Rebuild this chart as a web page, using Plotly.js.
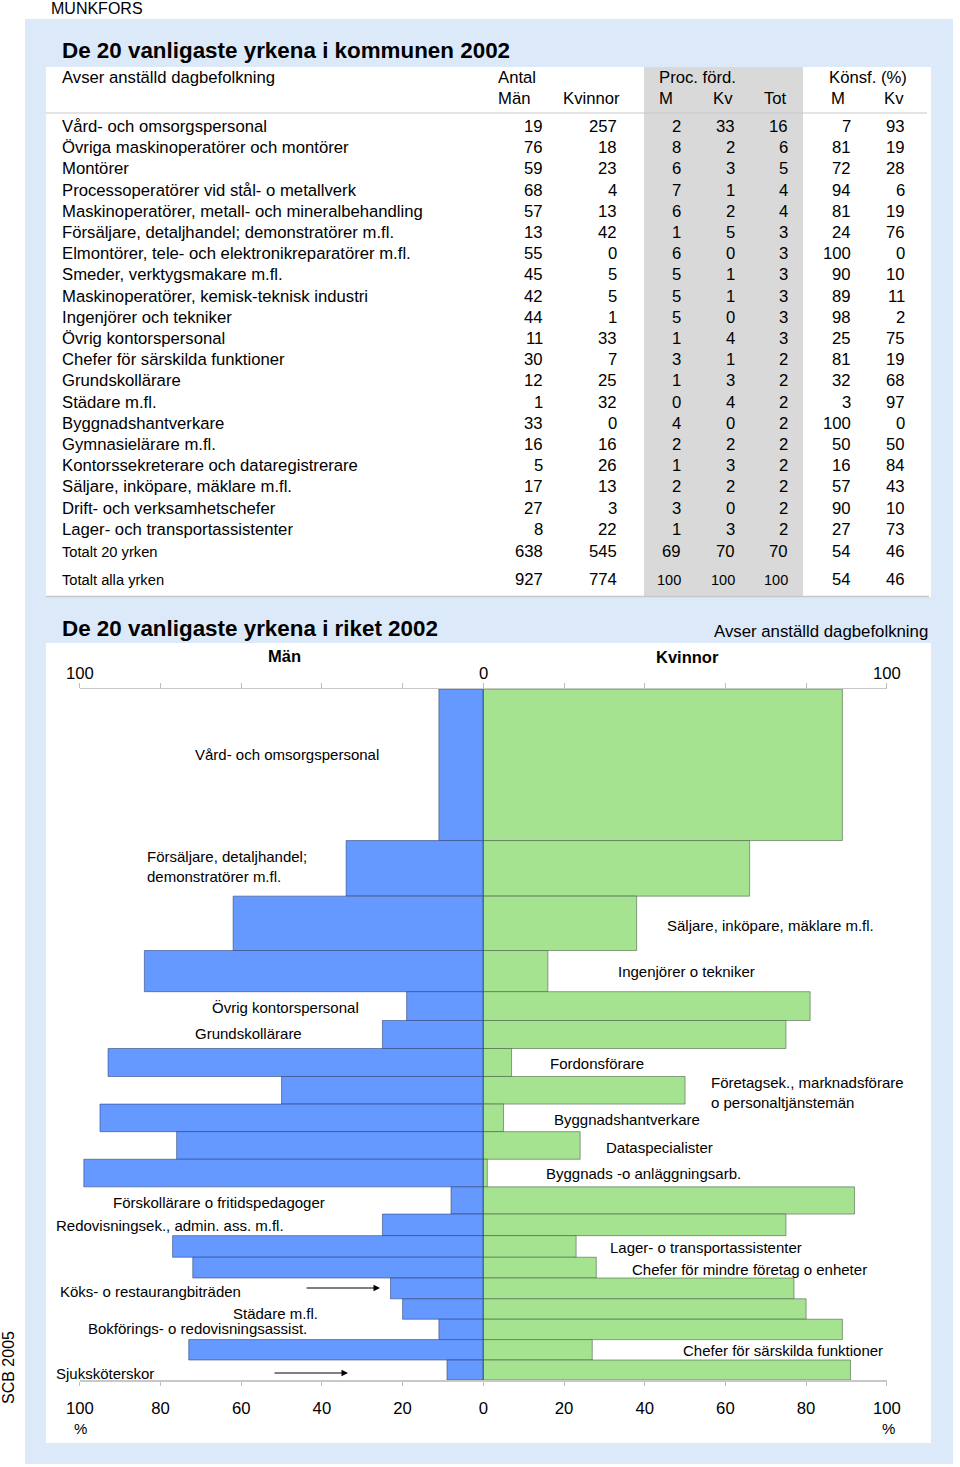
<!DOCTYPE html>
<html>
<head>
<meta charset="utf-8">
<script src="https://cdn.plot.ly/plotly-3.0.1.min.js"></script>
<style>
html,body{margin:0;padding:0;background:#fff;}
#chart{width:960px;height:1467px;}
</style>
</head>
<body>
<div id="chart"></div>
<script>
// ---------- Table data (Munkfors 2002) ----------
const tableYrken = [
  'Vård- och omsorgspersonal',
  'Övriga maskinoperatörer och montörer',
  'Montörer',
  'Processoperatörer vid stål- o metallverk',
  'Maskinoperatörer, metall- och mineralbehandling',
  'Försäljare, detaljhandel; demonstratörer m.fl.',
  'Elmontörer, tele- och elektronikreparatörer m.fl.',
  'Smeder, verktygsmakare m.fl.',
  'Maskinoperatörer, kemisk-teknisk industri',
  'Ingenjörer och tekniker',
  'Övrig kontorspersonal',
  'Chefer för särskilda funktioner',
  'Grundskollärare',
  'Städare m.fl.',
  'Byggnadshantverkare',
  'Gymnasielärare m.fl.',
  'Kontorssekreterare och dataregistrerare',
  'Säljare, inköpare, mäklare m.fl.',
  'Drift- och verksamhetschefer',
  'Lager- och transportassistenter'
];
const antalMan     = [19, 76, 59, 68, 57, 13, 55, 45, 42, 44, 11, 30, 12, 1, 33, 16, 5, 17, 27, 8];
const antalKvinnor = [257, 18, 23, 4, 13, 42, 0, 5, 5, 1, 33, 7, 25, 32, 0, 16, 26, 13, 3, 22];
const procM        = [2, 8, 6, 7, 6, 1, 6, 5, 5, 5, 1, 3, 1, 0, 4, 2, 1, 2, 3, 1];
const procKv       = [33, 2, 3, 1, 2, 5, 0, 1, 1, 0, 4, 1, 3, 4, 0, 2, 3, 2, 0, 3];
const procTot      = [16, 6, 5, 4, 4, 3, 3, 3, 3, 3, 3, 2, 2, 2, 2, 2, 2, 2, 2, 2];
const konsfM       = [7, 81, 72, 94, 81, 24, 100, 90, 89, 98, 25, 81, 32, 3, 100, 50, 16, 57, 90, 27];
const konsfKv      = [93, 19, 28, 6, 19, 76, 0, 10, 11, 2, 75, 19, 68, 97, 0, 50, 84, 43, 10, 73];
const totalLabels  = ['Totalt 20 yrken', 'Totalt alla yrken'];
const totalAntalMan = [638, 927];
const totalAntalKv  = [545, 774];
const totalProcM    = [69, 100];
const totalProcKv   = [70, 100];
const totalProcTot  = [70, 100];
const totalKonsfM   = [54, 54];
const totalKonsfKv  = [46, 46];

// ---------- Chart data (riket 2002) ----------
const riketYrken = [
  'Vård- och omsorgspersonal',
  'Försäljare, detaljhandel;<br>demonstratörer m.fl.',
  'Säljare, inköpare, mäklare m.fl.',
  'Ingenjörer o tekniker',
  'Övrig kontorspersonal',
  'Grundskollärare',
  'Fordonsförare',
  'Företagsek., marknadsförare<br>o personaltjänstemän',
  'Byggnadshantverkare',
  'Dataspecialister',
  'Byggnads -o anläggningsarb.',
  'Förskollärare o fritidspedagoger',
  'Redovisningsek., admin. ass. m.fl.',
  'Lager- o transportassistenter',
  'Chefer för mindre företag o enheter',
  'Köks- o restaurangbiträden',
  'Städare m.fl.',
  'Bokförings- o redovisningsassist.',
  'Chefer för särskilda funktioner',
  'Sjuksköterskor'
];
// number employed (thousands, estimated from bar thickness)
const riketAntal   = [379, 139, 136, 103, 72, 70, 70, 69, 69, 69, 69, 68, 54, 54, 52, 52, 51, 51, 51, 50];
const riketMan     = [11, 34, 62, 84, 19, 25, 93, 50, 95, 76, 99, 8, 25, 77, 72, 23, 20, 11, 73, 9];
const riketKvinnor = [89, 66, 38, 16, 81, 75, 7, 50, 5, 24, 1, 92, 75, 23, 28, 77, 80, 89, 27, 91];
const axisTicks    = [-100, -80, -60, -40, -20, 0, 20, 40, 60, 80, 100];
const topTickLabels = [-100, 0, 100];

// ---------- helpers ----------
const W = 960, H = 1467;
const X = p => p / W;
const Y = p => 1 - p / H;
const FONT = 'Liberation Sans, Arial, Helvetica, sans-serif';

// bar centres from cumulative sizes
const centers = [];
let acc = 0;
riketAntal.forEach(v => { centers.push(acc + v / 2); acc += v; });
const total = acc;

const traces = [
  {
    type: 'bar', orientation: 'h', name: 'Män',
    y: centers, x: riketMan.map(v => -v), width: riketAntal,
    marker: { color: '#6699FF', line: { color: 'rgba(40,60,110,0.55)', width: 1 } },
    hoverinfo: 'skip', xaxis: 'x', yaxis: 'y'
  },
  {
    type: 'bar', orientation: 'h', name: 'Kvinnor',
    y: centers, x: riketKvinnor, width: riketAntal,
    marker: { color: '#A6E390', line: { color: 'rgba(60,90,60,0.55)', width: 1 } },
    hoverinfo: 'skip', xaxis: 'x', yaxis: 'y'
  },
  {
    type: 'scatter', mode: 'none', x: [-100, 100], y: [0, 0],
    xaxis: 'x2', yaxis: 'y', hoverinfo: 'skip', showlegend: false
  }
];

const ann = [];
const shapes = [];
function txt(x, y, text, opts) {
  opts = opts || {};
  ann.push({
    xref: opts.xref || 'paper', yref: 'paper', x: opts.xref ? x : X(x), y: Y(y), text: text, showarrow: false,
    xanchor: opts.xa || 'left', yanchor: 'middle', align: opts.align || 'left',
    borderpad: 0,
    font: { family: FONT, size: opts.size || 16.7, color: opts.color || '#000', weight: opts.bold ? 'bold' : 'normal' }
  });
}
function rect(x0, y0, x1, y1, fill) {
  shapes.push({ type: 'rect', xref: 'paper', yref: 'paper', layer: 'below',
    x0: X(x0), x1: X(x1), y0: Y(y0), y1: Y(y1), fillcolor: fill, line: { width: 0 } });
}
function hline(x0, x1, y, color, w) {
  shapes.push({ type: 'line', xref: 'paper', yref: 'paper', layer: 'below',
    x0: X(x0), x1: X(x1), y0: Y(y), y1: Y(y), line: { color: color, width: w || 1 } });
}

// background panels
rect(25, 19, 953, 1464, '#DCE9F9');
rect(46, 67, 931, 597, '#FFFFFF');
rect(644, 67, 803, 596, '#D9D9D9');
hline(46, 927, 113, '#C8C8C8', 1);
hline(46, 929, 596.5, '#C8C8C8', 1.5);
rect(46, 643, 931, 1443, '#FFFFFF');

// header texts
txt(50, 8, 'MUNKFORS', { size: 16 });
txt(61, 50, 'De 20 vanligaste yrkena i kommunen 2002', { size: 22.4, bold: true });
txt(61, 77, 'Avser anställd dagbefolkning');
txt(497, 77, 'Antal');
txt(497, 98, 'Män');
txt(562, 98, 'Kvinnor');
txt(658, 77, 'Proc. förd.');
txt(658, 98, 'M');
txt(712, 98, 'Kv');
txt(763, 98, 'Tot');
txt(828, 77, 'Könsf. (%)');
txt(830, 98, 'M');
txt(883, 98, 'Kv');

// table rows
const colRight = [544, 618, 682, 736, 789, 852, 906];
tableYrken.forEach((name, i) => {
  const y = 126.5 + i * 21.2;
  txt(61, y, name);
  const vals = [antalMan[i], antalKvinnor[i], procM[i], procKv[i], procTot[i], konsfM[i], konsfKv[i]];
  vals.forEach((v, j) => txt(colRight[j], y, String(v), { xa: 'right' }));
});
totalLabels.forEach((name, i) => {
  const y = i === 0 ? 551.5 : 579.5;
  txt(61, y, name, { size: 14.7 });
  const vals = [totalAntalMan[i], totalAntalKv[i], totalProcM[i], totalProcKv[i], totalProcTot[i], totalKonsfM[i], totalKonsfKv[i]];
  vals.forEach((v, j) => {
    const small = (j >= 2 && j <= 4 && v >= 100);
    txt(colRight[j], y, String(v), { xa: 'right', size: small ? 14.5 : 16.7 });
  });
});

// chart header
txt(61, 629, 'De 20 vanligaste yrkena i riket 2002', { size: 22.4, bold: true });
txt(929, 631, 'Avser anställd dagbefolkning', { xa: 'right', size: 16.8 });
txt(284, 656, 'Män', { xa: 'center', bold: true, size: 16.5 });
txt(687, 657, 'Kvinnor', { xa: 'center', bold: true, size: 16.5 });
txt(80, 1428, '%', { xa: 'center', size: 15 });
txt(888, 1428, '%', { xa: 'center', size: 15 });
// top axis labels (data x positions)
topTickLabels.forEach(v => txt(v, 673, String(Math.abs(v)), { xref: 'x', xa: 'center', size: 16.7 }));

// occupation labels in the chart (layout positions)
const labelPos = [
  [194, 754], [146, 866.5], [666, 925], [617, 971], [211, 1007], [194, 1033],
  [549, 1063], [710, 1092], [553, 1119], [605, 1147], [545, 1173], [112, 1202],
  [55, 1225], [609, 1247], [631, 1269], [59, 1291], [232, 1313], [87, 1328],
  [682, 1350], [55, 1373]
];
riketYrken.forEach((name, i) => {
  txt(labelPos[i][0], labelPos[i][1], name, { size: 15 });
});

// arrows
[[380, 1288, 305], [348, 1373, 273]].forEach(a => {
  ann.push({
    xref: 'paper', yref: 'paper', x: X(a[0]), y: Y(a[1]), text: '', showarrow: true,
    axref: 'pixel', ayref: 'pixel', ax: a[2] - a[0], ay: 0,
    arrowhead: 2, arrowsize: 1.3, arrowwidth: 1, arrowcolor: '#000', standoff: 0
  });
});

// SCB 2005 vertical text
ann.push({
  xref: 'paper', yref: 'paper', x: X(8), y: Y(1368), text: 'SCB 2005', showarrow: false,
  textangle: -90, xanchor: 'center', yanchor: 'middle',
  font: { family: FONT, size: 16, color: '#000' }
});

// zero line
shapes.push({
  type: 'line', xref: 'x', yref: 'y', layer: 'above', x0: 0, x1: 0, y0: 0, y1: total,
  line: { color: 'rgba(50,70,110,0.6)', width: 1 }
});

const xDomain = [X(79.8), X(886.8)];
const layout = {
  width: W, height: H,
  margin: { l: 0, r: 0, t: 0, b: 0, pad: 0 },
  paper_bgcolor: '#FFFFFF', plot_bgcolor: 'rgba(0,0,0,0)',
  showlegend: false, barmode: 'overlay', bargap: 0,
  font: { family: FONT, size: 16.7, color: '#000' },
  xaxis: {
    domain: xDomain, range: [-100, 100], anchor: 'y', side: 'bottom',
    tickvals: axisTicks, ticktext: axisTicks.map(v => String(Math.abs(v))),
    ticks: 'outside', ticklen: 4, tickwidth: 1, tickcolor: '#BDBDBD',
    showline: true, linecolor: '#C8C8C8', linewidth: 1.5,
    showgrid: false, zeroline: false, fixedrange: true,
    tickfont: { family: FONT, size: 16.7, color: '#000' },
    ticklabelstandoff: 8
  },
  xaxis2: {
    domain: xDomain, range: [-100, 100], anchor: 'y', side: 'top', overlaying: 'x',
    tickvals: axisTicks, showticklabels: false,
    ticks: 'outside', ticklen: 5, tickwidth: 1, tickcolor: '#BDBDBD',
    showline: true, linecolor: '#C8C8C8', linewidth: 1.5,
    showgrid: false, zeroline: false, fixedrange: true
  },
  yaxis: {
    domain: [Y(1380), Y(689)], range: [total, 0],
    visible: false, showgrid: false, zeroline: false, fixedrange: true
  },
  shapes: shapes,
  annotations: ann
};

Plotly.newPlot('chart', traces, layout, { staticPlot: true, displayModeBar: false });
</script>
</body>
</html>
